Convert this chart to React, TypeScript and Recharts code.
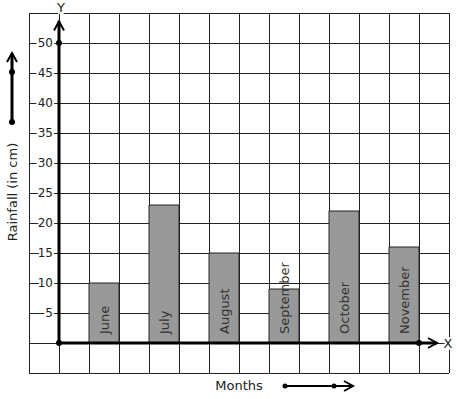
import {
  ComposedChart, Bar, XAxis, YAxis, CartesianGrid, ReferenceLine, ReferenceDot, LabelList,
} from "recharts";

const months = ["June", "July", "August", "September", "October", "November"];
const rainfall = [10, 23, 15, 9, 22, 16];
const yTicks = [-5, 0, 5, 10, 15, 20, 25, 30, 35, 40, 45, 50, 55];
const yLabels = [5, 10, 15, 20, 25, 30, 35, 40, 45, 50];
const gridTicks = [-1, 0, 1, 2, 3, 4, 5, 6, 7, 8, 9, 10, 11, 12, 13];

// 14 grid cells; month i sits in every other cell, starting at the third
const data = Array.from({ length: 14 }, (_, slot) => {
  const i = slot % 2 === 0 ? slot / 2 - 1 : -1;
  return {
    slot,
    pos: slot - 0.5,
    month: i >= 0 && i < months.length ? months[i] : null,
    rain: i >= 0 && i < months.length ? rainfall[i] : null,
  };
});

const FONT = "DejaVu Sans, sans-serif";
const INK = "#222";

const halo = { stroke: "#fff", strokeWidth: 4, paintOrder: "stroke" as const };

const renderYTick = (props: any) => {
  const v = props.payload.value;
  if (!yLabels.includes(v)) return <g />;
  return (
    <text x={props.x + 24} y={props.y} textAnchor="end" dominantBaseline="central"
      fontSize={12} fontFamily={FONT} fill={INK} {...halo}>
      {v}
    </text>
  );
};

const Chevron = ({ x, y, dir }: { x: number; y: number; dir: "up" | "right" }) =>
  dir === "up" ? (
    <path d={`M${x - 5},${y + 9} L${x},${y} L${x + 5},${y + 9}`} fill="none" stroke="#000" strokeWidth={2} />
  ) : (
    <path d={`M${x - 9},${y - 5} L${x},${y} L${x - 9},${y + 5}`} fill="none" stroke="#000" strokeWidth={2} />
  );

const axisArrow = (name: string, dir: "up" | "right") => (p: any) => (
  <g>
    <line x1={p.x1} y1={p.y1} x2={p.x2} y2={p.y2} stroke="#000" strokeWidth={3} />
    <Chevron x={p.x2} y={p.y2} dir={dir} />
    <text
      x={dir === "up" ? p.x2 + 2 : p.x2 + 11}
      y={dir === "up" ? p.y2 - 14 : p.y2}
      textAnchor="middle" dominantBaseline="central"
      fontSize={13} fontFamily={FONT} fill={INK} {...halo}>
      {name}
    </text>
  </g>
);

const BarName = (props: any) => {
  const { x, y, width, height, value } = props;
  if (!value) return null;
  const cx = x + width / 2;
  const cy = y + height - 9;
  return (
    <text x={cx} y={cy} transform={`rotate(-90 ${cx} ${cy})`} textAnchor="start"
      dominantBaseline="central" fontSize={13} fontFamily={FONT} fill="#333">
      {value}
    </text>
  );
};

export default function App() {
  return (
    <div style={{ position: "absolute", left: 0, top: 0, width: 457, height: 399, background: "#fff" }}>
      <ComposedChart width={457} height={399} data={data} barCategoryGap={0}
        margin={{ top: 13, right: 8, bottom: 26, left: 0 }}>
        <XAxis dataKey="slot" type="category" hide />
        <XAxis xAxisId="grid" dataKey="pos" type="number" scale="linear" domain={[-1, 13]}
          ticks={gridTicks} allowDataOverflow hide />
        <YAxis type="number" domain={[-5, 55]} ticks={yTicks} width={29} allowDataOverflow
          axisLine={false} tickLine={false} tickSize={0} tickMargin={0} tick={renderYTick} interval={0} />
        <CartesianGrid xAxisId="grid" stroke={INK} strokeOpacity={1} shapeRendering="crispEdges" />
        <Bar dataKey="rain" fill="#999999" stroke={INK} strokeWidth={1} isAnimationActive={false}>
          <LabelList dataKey="month" content={<BarName />} />
        </Bar>
        <ReferenceLine xAxisId="grid" segment={[{ x: 0, y: 0 }, { x: 0, y: 53.6 }]}
          shape={axisArrow("Y", "up")} />
        <ReferenceLine xAxisId="grid" segment={[{ x: 0, y: 0 }, { x: 12.6, y: 0 }]}
          shape={axisArrow("X", "right")} />
        <ReferenceDot xAxisId="grid" x={0} y={50} r={3} fill="#000" stroke="none" />
        <ReferenceDot xAxisId="grid" x={0} y={0} r={3} fill="#000" stroke="none" />
        <ReferenceDot xAxisId="grid" x={12} y={0} r={3} fill="#000" stroke="none" />
      </ComposedChart>
      <svg width={457} height={399} style={{ position: "absolute", left: 0, top: 0, pointerEvents: "none" }}>
        <text x={12} y={192} transform="rotate(-90 12 192)" textAnchor="middle" dominantBaseline="central"
          fontSize={13} fontFamily={FONT} fill={INK}>
          Rainfall (in cm)
        </text>
        <line x1={12} y1={122} x2={12} y2={54} stroke="#000" strokeWidth={3} />
        <Chevron x={12} y={53} dir="up" />
        <circle cx={12} cy={122} r={3} fill="#000" />
        <circle cx={12} cy={72} r={3} fill="#000" />
        <text x={239} y={385} textAnchor="middle" dominantBaseline="central"
          fontSize={13} fontFamily={FONT} fill={INK}>
          Months
        </text>
        <line x1={285} y1={386} x2={352} y2={386} stroke="#000" strokeWidth={2} />
        <Chevron x={353} y={386} dir="right" />
        <circle cx={285} cy={386} r={2.5} fill="#000" />
        <circle cx={334} cy={386} r={2.5} fill="#000" />
      </svg>
    </div>
  );
}
